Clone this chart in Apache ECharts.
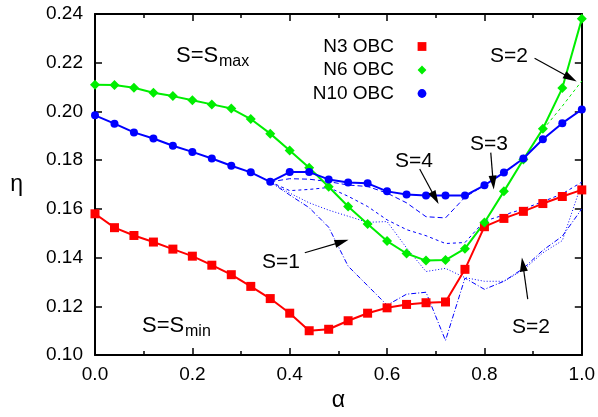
<!DOCTYPE html>
<html>
<head>
<meta charset="utf-8">
<script src="https://cdn.jsdelivr.net/npm/echarts@6/dist/echarts.min.js"></script>
<style>html,body{margin:0;padding:0;background:#fff}#c{width:598px;height:417px}</style>
</head>
<body>
<div id="c"></div>
<script>
// ---- data ----
const alpha = [0.00,0.04,0.08,0.12,0.16,0.20,0.24,0.28,0.32,0.36,0.40,0.44,0.48,0.52,0.56,0.60,0.64,0.68,0.72,0.76,0.80,0.84,0.88,0.92,0.96,1.00];
const n3  = [0.1580,0.1523,0.1491,0.1464,0.1435,0.1406,0.1369,0.1330,0.1282,0.1232,0.1172,0.1100,0.1106,0.1141,0.1172,0.1194,0.1208,0.1215,0.1218,0.1352,0.1527,0.1561,0.1590,0.1622,0.1651,0.1678];
const n6  = [0.2110,0.2109,0.2097,0.2077,0.2063,0.2046,0.2029,0.2012,0.1969,0.1909,0.1840,0.1769,0.1691,0.1610,0.1538,0.1468,0.1417,0.1388,0.1390,0.1437,0.1544,0.1672,0.1803,0.1929,0.2096,0.2380];
const n10 = [0.1984,0.1950,0.1914,0.1889,0.1859,0.1834,0.1807,0.1777,0.1750,0.1711,0.1751,0.1751,0.1721,0.1708,0.1705,0.1672,0.1659,0.1655,0.1655,0.1655,0.1697,0.1749,0.1807,0.1886,0.1952,0.2008];
// N10 other spin sectors (thin lines)
const alphaS4 = [0.36,0.40,0.44,0.48,0.52,0.56,0.60,0.64,0.68,0.72,0.76,0.80];
const n10S4 = [0.1711,0.1724,0.1722,0.1712,0.1698,0.1692,0.1665,0.1625,0.1568,0.1563,0.1648,0.1697];
const alphaThin = [0.36,0.40,0.44,0.48,0.52,0.56,0.60,0.64,0.68,0.72,0.76,0.80,0.84,0.88,0.92,0.96,1.00];
const n10S3 = [0.1711,0.1675,0.1680,0.1688,0.1652,0.1610,0.1555,0.1515,0.1490,0.1458,0.1462,0.1550,0.1575,0.1600,0.1630,0.1662,0.1710];
const n10S2 = [0.1711,0.1665,0.1625,0.1595,0.1570,0.1545,0.1548,0.1440,0.1343,0.1356,0.1318,0.1303,0.1303,0.1350,0.1420,0.1470,0.1705];
const n10S1 = [0.1711,0.1657,0.1605,0.1525,0.1365,0.1285,0.1205,0.1250,0.1258,0.1060,0.1316,0.1270,0.1303,0.1356,0.1430,0.1488,0.1600];
// N6 S=2 sector
const alphaN6S2 = [0.88,0.92,0.96,1.00];
const n6S2 = [0.1803,0.1925,0.2022,0.2125];
const yTicks = ['0.10','0.12','0.14','0.16','0.18','0.20','0.22','0.24'];
const xTicks = ['0.0','0.2','0.4','0.6','0.8','1.0'];

// annotation arrows [from, to] in data coordinates
const arrows = [
  [[0.903,0.2218],[0.977,0.2137]],
  [[0.813,0.1831],[0.818,0.1708]],
  [[0.667,0.1764],[0.699,0.1645]],
  [[0.431,0.1420],[0.507,0.1465]],
  [[0.889,0.1230],[0.879,0.1372]]
];

const zip = (xs, ys) => xs.map((x, i) => [x, ys[i]]);
const FONT = "'Liberation Sans', Arial, Helvetica, sans-serif";
const chart = echarts.init(document.getElementById('c'), null, {renderer: 'canvas'});

const axisCommon = {
  type: 'value',
  axisLine: {show: true, onZero: false, lineStyle: {color: '#000', width: 2}},
  splitLine: {show: false}
};

const thin = (name, xs, ys, color, dash) => ({
  name, type: 'line', data: zip(xs, ys), symbol: 'none', z: 2,
  lineStyle: {color, width: 1, type: dash}, silent: true
});

const option = {
  animation: false,
  backgroundColor: '#fff',
  textStyle: {fontFamily: FONT},
  grid: {left: 95, right: 16, top: 14, bottom: 49, containLabel: false},
  legend: {
    orient: 'vertical', align: 'right', right: 152, top: 37, padding: 0,
    itemWidth: 46, itemHeight: 11, itemGap: 4.5,
    lineStyle: {opacity: 0},
    textStyle: {fontSize: 19, color: '#000', fontFamily: FONT},
    data: ['N3 OBC', 'N6 OBC', 'N10 OBC']
  },
  xAxis: [
    Object.assign({}, axisCommon, {
      min: 0, max: 1, interval: 0.2, position: 'bottom',
      name: 'α', nameLocation: 'middle', nameGap: 22,
      nameTextStyle: {fontSize: 23, color: '#000', fontFamily: FONT},
      axisTick: {show: true, inside: true, length: 7, lineStyle: {color: '#000', width: 1.5}},
      minorTick: {show: true, splitNumber: 2, length: 4, lineStyle: {color: '#000', width: 1.5}},
      axisLabel: {fontSize: 19, color: '#000', margin: 10, fontFamily: FONT,
        formatter: v => xTicks[Math.round(v / 0.2)]}
    }),
    Object.assign({}, axisCommon, {
      min: 0, max: 1, interval: 0.2, position: 'top',
      axisTick: {show: true, inside: true, length: 7, lineStyle: {color: '#000', width: 1.5}},
      minorTick: {show: true, splitNumber: 2, length: 4, lineStyle: {color: '#000', width: 1.5}},
      axisLabel: {show: false}
    })
  ],
  yAxis: [
    Object.assign({}, axisCommon, {
      min: 0.10, max: 0.24, interval: 0.02, position: 'left',
      name: 'η', nameLocation: 'middle', nameGap: 72, nameRotate: 0,
      nameTextStyle: {fontSize: 23, color: '#000', fontFamily: FONT},
      axisTick: {show: true, inside: true, length: 7, lineStyle: {color: '#000', width: 1.5}},
      axisLabel: {fontSize: 19, color: '#000', margin: 12, fontFamily: FONT,
        formatter: v => yTicks[Math.round((v - 0.10) / 0.02)]}
    }),
    Object.assign({}, axisCommon, {
      min: 0.10, max: 0.24, interval: 0.02, position: 'right',
      axisTick: {show: true, inside: true, length: 7, lineStyle: {color: '#000', width: 1.5}},
      axisLabel: {show: false}
    })
  ],
  series: [
    thin('N10 S=4', alphaS4, n10S4, '#0000ff', [5, 3]),
    thin('N10 S=3', alphaThin, n10S3, '#0000ff', [3, 3]),
    thin('N10 S=2', alphaThin, n10S2, '#0000ff', [1, 2]),
    thin('N10 S=1', alphaThin, n10S1, '#0000ff', [5, 2, 1, 2]),
    thin('N6 S=2', alphaN6S2, n6S2, '#00ee00', [3, 3]),
    {
      name: 'N3 OBC', type: 'line', data: zip(alpha, n3), z: 3,
      symbol: 'rect', symbolSize: 9, showSymbol: true,
      lineStyle: {color: '#ff0000', width: 2}, itemStyle: {color: '#ff0000'},
      markLine: {
        silent: true, symbol: ['none', 'triangle'], symbolSize: [8, 14],
        lineStyle: {color: '#000', width: 1.2, type: 'solid'},
        label: {show: false},
        data: arrows.map(a => [{coord: a[0]}, {coord: a[1]}])
      }
    },
    {
      name: 'N6 OBC', type: 'line', data: zip(alpha, n6), z: 3,
      symbol: 'diamond', symbolSize: 10, showSymbol: true,
      lineStyle: {color: '#00ee00', width: 2}, itemStyle: {color: '#00ee00'}
    },
    {
      name: 'N10 OBC', type: 'line', data: zip(alpha, n10), z: 3,
      symbol: 'circle', symbolSize: 8, showSymbol: true,
      lineStyle: {color: '#0000ff', width: 2}, itemStyle: {color: '#0000ff'}
    }
  ],
  graphic: [
    {type: 'text', left: 176, top: 45, style: {text: 'S=S', font: '22px ' + FONT, fill: '#000'}},
    {type: 'text', left: 219, top: 54, style: {text: 'max', font: '16px ' + FONT, fill: '#000'}},
    {type: 'text', left: 142, top: 315, style: {text: 'S=S', font: '22px ' + FONT, fill: '#000'}},
    {type: 'text', left: 185, top: 324, style: {text: 'min', font: '16px ' + FONT, fill: '#000'}},
    {type: 'text', left: 490, top: 46, style: {text: 'S=2', font: '21px ' + FONT, fill: '#000'}},
    {type: 'text', left: 470, top: 134, style: {text: 'S=3', font: '21px ' + FONT, fill: '#000'}},
    {type: 'text', left: 395, top: 151, style: {text: 'S=4', font: '21px ' + FONT, fill: '#000'}},
    {type: 'text', left: 262, top: 252, style: {text: 'S=1', font: '21px ' + FONT, fill: '#000'}},
    {type: 'text', left: 512, top: 317, style: {text: 'S=2', font: '21px ' + FONT, fill: '#000'}}
  ]
};
chart.setOption(option);
</script>
</body>
</html>
